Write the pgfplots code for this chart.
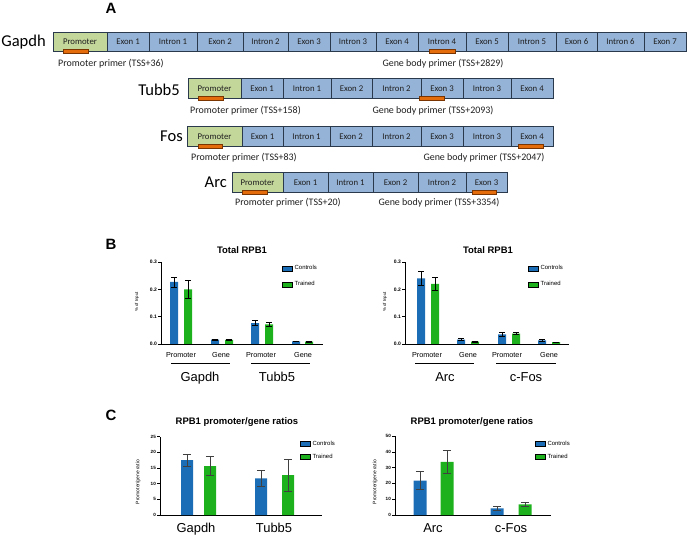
\documentclass[border=0pt]{standalone}
\usepackage{pgfplots}
\pgfplotsset{compat=1.18}
\usepackage{fontspec}
\setmainfont{Liberation Sans}
\newfontfamily\calfont{Carlito}
\definecolor{promgreen}{HTML}{C4D79B}
\definecolor{exonblue}{HTML}{95B3D7}
\definecolor{boxline}{HTML}{2A3A4C}
\definecolor{primer}{HTML}{E46C0A}
\definecolor{primerline}{HTML}{7A3500}
\definecolor{cblue}{HTML}{1B6DB5}
\definecolor{cgreen}{HTML}{1DB21D}
\newcommand{\fs}[1]{\fontsize{#1}{#1}\selectfont}
\newcommand{\seg}[6]{%
  \draw[boxline, line width=0.7bp, fill=#5] (#1,#3) rectangle (#2,#4);
  \node[font=\calfont\fs{8.8}, anchor=base, text=black!88, inner sep=0pt] at ({(#1+#2)/2},{(#3+#4)/2+3.5}) {#6};}
\newcommand{\primer}[3]{\draw[primerline, line width=0.5bp, fill=primer] (#1,#3) rectangle (#2,#3+4);}
\pgfplotsset{
  gp/.style={
    scale only axis, anchor=south west,
    axis lines=left, axis line style={-, line width=0.8bp, black},
    xtick=\empty, ymin=0,
    tick align=outside, major tick length=3bp,
    ytick style={line width=0.6bp, black},
    yticklabel style={font=\fs{5}\bfseries, inner sep=1bp},
    clip=false,
    legend style={draw=none, fill=none, inner sep=0pt, font=\fs{6}, nodes={inner sep=1bp}, column sep=1bp},
    legend cell align=left,
    legend image code/.code={\path[##1] (0bp,-2.6bp) rectangle (10bp,2.6bp);},
    legend entries={Controls,Trained},
  },
  bars/.style 2 args={ybar, bar shift=0pt, draw=none, forget plot,
    error bars/y dir=both, error bars/y explicit,
    error bars/error bar style={line width=0.6bp, #1},
    error bars/error mark options={rotate=90, line width=0.6bp, #1, mark size=#2}},
}
\begin{document}
\begin{tikzpicture}
\useasboundingbox (0,0) rectangle (688bp,537bp);
\begin{scope}[x=1bp,y=-1bp,yshift=537bp]
% ---------- Panel A ----------
\node[font=\fs{15}\bfseries, anchor=base] at (111,13.5) {A};
\node[font=\fs{15}\bfseries, anchor=base] at (111,250) {B};
\node[font=\fs{15}\bfseries, anchor=base] at (111,420.5) {C};
% Gapdh
\seg{53}{107}{32}{51}{promgreen}{Promoter}
\foreach \a/\b/\t in {107/149/Exon 1,149/197/Intron 1,197/243/Exon 2,243/288/Intron 2,288/330/Exon 3,330/376/Intron 3,376/418/Exon 4,418/466/Intron 4,466/508/Exon 5,508/556/Intron 5,556/597/Exon 6,597/644/Intron 6,644/686/Exon 7}{\seg{\a}{\b}{32}{51}{exonblue}{\t}}
\primer{63}{88}{49}\primer{429}{455}{49}
\node[font=\calfont\fs{16.6}, anchor=base east, inner sep=0pt] at (46,47) {Gapdh};
\node[font=\calfont\fs{10}, anchor=base west, inner sep=0pt, text=black!88] at (58,66.5) {Promoter primer (TSS+36)};
\node[font=\calfont\fs{10}, anchor=base, inner sep=0pt, text=black!88] at (443,66.5) {Gene body primer (TSS+2829)};
% Tubb5
\seg{188}{241}{78}{98}{promgreen}{Promoter}
\foreach \a/\b/\t in {241/283/Exon 1,283/331/Intron 1,331/372/Exon 2,372/421/Intron 2,421/463/Exon 3,463/511/Intron 3,511/553/Exon 4}{\seg{\a}{\b}{78}{98}{exonblue}{\t}}
\primer{198}{223}{96}\primer{419}{444}{96}
\node[font=\calfont\fs{16.6}, anchor=base east, inner sep=0pt] at (180,95.5) {Tubb5};
\node[font=\calfont\fs{10}, anchor=base west, inner sep=0pt, text=black!88] at (190,114) {Promoter primer (TSS+158)};
\node[font=\calfont\fs{10}, anchor=base, inner sep=0pt, text=black!88] at (433,114) {Gene body primer (TSS+2093)};
% Fos
\seg{187}{242}{126}{146}{promgreen}{Promoter}
\foreach \a/\b/\t in {242/283/Exon 1,283/330/Intron 1,330/372/Exon 2,372/421/Intron 2,421/463/Exon 3,463/511/Intron 3,511/553/Exon 4}{\seg{\a}{\b}{126}{146}{exonblue}{\t}}
\primer{198}{222}{144}\primer{518}{543}{144}
\node[font=\calfont\fs{16.6}, anchor=base east, inner sep=0pt] at (183,142) {Fos};
\node[font=\calfont\fs{10}, anchor=base west, inner sep=0pt, text=black!88] at (191,160.5) {Promoter primer (TSS+83)};
\node[font=\calfont\fs{10}, anchor=base, inner sep=0pt, text=black!88] at (484,160.5) {Gene body primer (TSS+2047)};
% Arc
\seg{232}{283}{172}{192}{promgreen}{Promoter}
\foreach \a/\b/\t in {283/328/Exon 1,328/373/Intron 1,373/418/Exon 2,418/466/Intron 2,466/507/Exon 3}{\seg{\a}{\b}{172}{192}{exonblue}{\t}}
\primer{242}{267}{190}\primer{472}{496}{190}
\node[font=\calfont\fs{16.6}, anchor=base east, inner sep=0pt] at (227,188) {Arc};
\node[font=\calfont\fs{10}, anchor=base west, inner sep=0pt, text=black!88] at (235,206) {Promoter primer (TSS+20)};
\node[font=\calfont\fs{10}, anchor=base, inner sep=0pt, text=black!88] at (439,206) {Gene body primer (TSS+3354)};
% ---------- Panel B texts ----------
\node[font=\fs{9.5}\bfseries, anchor=base] at (242,253.5) {Total RPB1};
\node[font=\fs{9.5}\bfseries, anchor=base] at (488,253.5) {Total RPB1};
\foreach \x/\t in {181/Promoter,221/Gene,261/Promoter,303/Gene,427/Promoter,468/Gene,507/Promoter,549/Gene}{\node[font=\fs{7.3}, anchor=base] at (\x,358) {\t};}
\foreach \a/\b in {171/230,251/310,415/474,496/556}{\draw[line width=1bp] (\a,364)--(\b,364);}
\foreach \x/\t in {200/Gapdh,277/Tubb5,445/Arc,526/c-Fos}{\node[font=\fs{13}, anchor=base] at (\x,382) {\t};}
\node[rotate=90, font=\fs{4.4}] at (137,302) {\% of Input};
\node[rotate=90, font=\fs{4.4}] at (385,302) {\% of Input};
% ---------- Panel C texts ----------
\node[font=\fs{9.5}\bfseries, anchor=base] at (237,425) {RPB1 promoter/gene ratios};
\node[font=\fs{9.5}\bfseries, anchor=base] at (472,425) {RPB1 promoter/gene ratios};
\foreach \x/\t in {196/Gapdh,274/Tubb5,433/Arc,511/c-Fos}{\node[font=\fs{13}, anchor=base] at (\x,533) {\t};}
\node[rotate=90, font=\fs{5}] at (138,482) {Promoter/gene ratio};
\node[rotate=90, font=\fs{5}] at (375,482) {Promoter/gene ratio};
\end{scope}
% ---------- B left ----------
\begin{axis}[gp, at={(161bp,193bp)}, width=162bp, height=82bp, xmin=161, xmax=323, ymax=0.3,
  ytick={0,0.1,0.2,0.3}, yticklabels={0.0,0.1,0.2,0.3},
  legend style={at={(0.747,0.97)}, anchor=north west, row sep=8bp}]
\addlegendimage{fill=cblue}
\addlegendimage{fill=cgreen}
\addplot[bars={black}{3bp}, fill=cblue, bar width=8] coordinates {(174,0.227) +- (0,0.018) (215,0.016) +- (0,0.002) (255,0.076) +- (0,0.009) (296,0.010) +- (0,0.001)};
\addplot[bars={black}{3bp}, fill=cgreen, bar width=8] coordinates {(188,0.200) +- (0,0.033) (229,0.015) +- (0,0.002) (269,0.072) +- (0,0.007) (309,0.009) +- (0,0.001)};
\end{axis}
% ---------- B right ----------
\begin{axis}[gp, at={(405bp,193bp)}, width=164bp, height=82bp, xmin=405, xmax=569, ymax=0.3,
  ytick={0,0.1,0.2,0.3}, yticklabels={0.0,0.1,0.2,0.3},
  legend style={at={(0.75,0.97)}, anchor=north west, row sep=8bp}]
\addlegendimage{fill=cblue}
\addlegendimage{fill=cgreen}
\addplot[bars={black}{3bp}, fill=cblue, bar width=8] coordinates {(421,0.240) +- (0,0.027) (461,0.016) +- (0,0.004) (502,0.035) +- (0,0.007) (542,0.013) +- (0,0.003)};
\addplot[bars={black}{3bp}, fill=cgreen, bar width=8] coordinates {(435,0.220) +- (0,0.023) (475,0.009) +- (0,0.002) (516,0.038) +- (0,0.004) (556,0.007) +- (0,0.001)};
\end{axis}
% ---------- C left ----------
\begin{axis}[gp, at={(160bp,22bp)}, width=162bp, height=78.3bp, xmin=160, xmax=322, ymax=25,
  ytick={0,5,10,15,20,25}, yticklabel style={font=\fs{4.6}\bfseries},
  /pgf/number format/assume math mode=true,
  legend style={at={(0.864,0.964)}, anchor=north west, row sep=5.5bp}]
\addlegendimage{fill=cblue}
\addlegendimage{fill=cgreen}
\addplot[bars={black!75}{4.2bp}, fill=cblue, bar width=12] coordinates {(187,17.5) +- (0,1.9) (261,11.7) +- (0,2.6)};
\addplot[bars={black!75}{4.2bp}, fill=cgreen, bar width=12] coordinates {(210,15.6) +- (0,3.0) (288,12.7) +- (0,5.1)};
\end{axis}
% ---------- C right ----------
\begin{axis}[gp, at={(395bp,22bp)}, width=156bp, height=79bp, xmin=395, xmax=551, ymax=50,
  ytick={0,10,20,30,40,50}, yticklabel style={font=\fs{4.6}\bfseries},
  /pgf/number format/assume math mode=true,
  legend style={at={(0.897,0.956)}, anchor=north west, row sep=5.5bp}]
\addlegendimage{fill=cblue}
\addlegendimage{fill=cgreen}
\addplot[bars={black!75}{4.2bp}, fill=cblue, bar width=13] coordinates {(420,21.7) +- (0,5.7) (497,4.2) +- (0,1.1)};
\addplot[bars={black!75}{4.2bp}, fill=cgreen, bar width=13] coordinates {(447,33.7) +- (0,7.0) (525,6.8) +- (0,1.4)};
\end{axis}
\end{tikzpicture}
\end{document}
